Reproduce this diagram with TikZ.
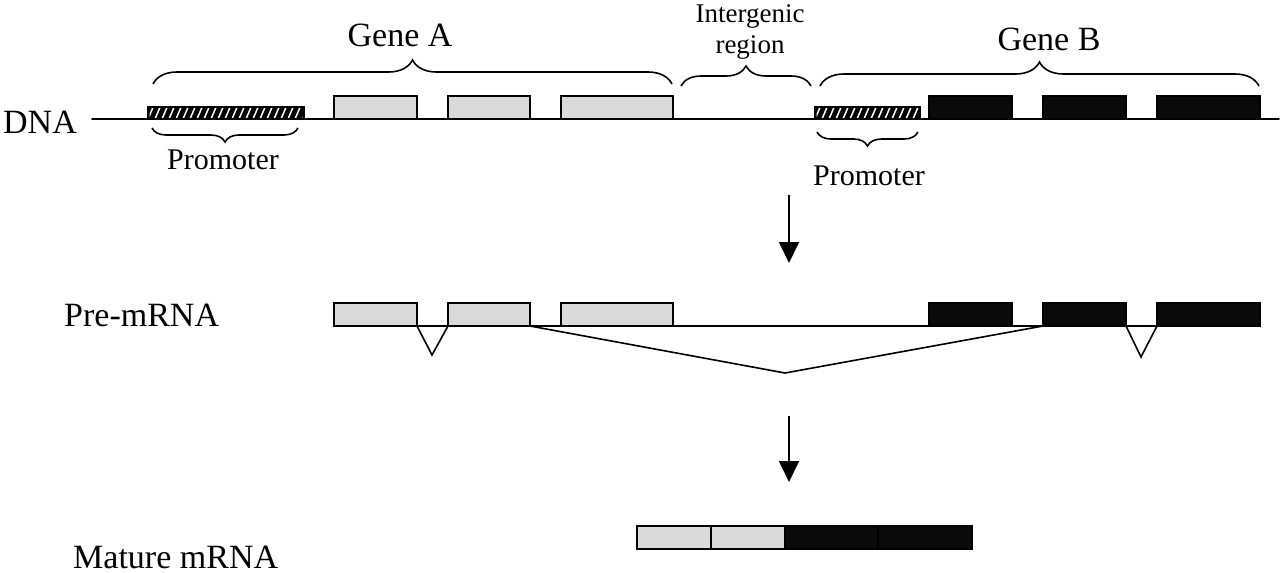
\documentclass[tikz,border=0pt]{standalone}
\usepackage{fontspec}
\setmainfont{Liberation Serif}
\usepackage{tikz}
\usetikzlibrary{
  arrows.meta, positioning, calc, decorations.pathreplacing
}
\definecolor{colExonA}{HTML}{DADADA}
\definecolor{colExonB}{HTML}{0A0A0A}
\tikzset{
  exon/.style={
    draw, line width=1.6pt, inner sep=0pt, outer sep=0pt,
    minimum height=23pt, anchor=south west
  },
  exonA/.style ={exon, fill=colExonA},
  exonB/.style ={exon, fill=colExonB},
  prom/.style  ={exon, fill=black, minimum height=12pt},
  strand/.style={line width=1.8pt, line cap=round},
  splice/.style={line width=1.6pt, line join=miter},
  curly/.style={
    decorate, line width=1.6pt,
    decoration={brace, amplitude=#1}
  },
  curly/.default=24pt,
  lbl/.style   ={font=\fontsize{34}{40}\selectfont},
  smlbl/.style ={font=\fontsize{30}{34}\selectfont},
  downarr/.style={
    -{Triangle[length=21pt,width=20pt]},
    line width=1.8pt
  }
}
% white slashes inside a promoter box
\newcommand{\hatchprom}[2]{%
  \begin{scope}
    \clip ($(#1.south west)+(1.6,-1.6)$) rectangle ($(#1.north east)+(-1.6,1.6)$);
    \foreach \hx in {0,7,...,#2}
      \draw[white, line width=1.5pt] ($(#1.south west)+(\hx,0)$) -- ++(6,-14);
  \end{scope}
}

\begin{document}
\begin{tikzpicture}[x=1pt, y=-1pt]
  \fill[white] (0,0) rectangle (1280,573);
  \useasboundingbox (0,0) rectangle (1280,573);

  %% ── DNA row ───────────────────────────────────────────────────────
  \node[lbl, anchor=base west, inner sep=0pt] (dna) at (3,133) {DNA};
  \coordinate (dnastart) at (92,119);
  \coordinate (dnaend)   at (1279,119);
  \draw[strand] (dnastart) -- (dnaend);

  \node[prom,  minimum width=156pt] (pA) at (148,119) {};
  \node[exonA, minimum width=83pt]  (a1) at (334,119) {};
  \node[exonA, minimum width=82pt]  (a2) at (448,119) {};
  \node[exonA, minimum width=112pt] (a3) at (561,119) {};

  \node[prom,  minimum width=105pt] (pB) at (815,119) {};
  \node[exonB, minimum width=83pt]  (b1) at (929,119) {};
  \node[exonB, minimum width=83pt]  (b2) at (1043,119) {};
  \node[exonB, minimum width=103pt] (b3) at (1157,119) {};

  \hatchprom{pA}{160}
  \hatchprom{pB}{110}

  %% ── Braces and their labels ───────────────────────────────────────
  \draw[curly=24pt] (153,84) -- (672,84);
  \draw[curly=20pt] (681,86) -- (811,86);
  \draw[curly=24pt] (820,86) -- (1259,86);
  \draw[curly=14pt] (298,128) -- (152,128);
  \draw[curly=14pt] (918,132) -- (817,132);

  \node[lbl, anchor=base] (geneA) at (400,46) {Gene A};
  \node[lbl, anchor=base] (geneB) at (1049,50) {Gene B};
  \node[font=\fontsize{27}{31}\selectfont, align=center, inner sep=0pt]
    (inter) at (750,31.5) {Intergenic\\region};
  \node[smlbl, anchor=base] (promA) at (223,169) {Promoter};
  \node[smlbl, anchor=base] (promB) at (869,185) {Promoter};

  %% ── Transcription arrow ───────────────────────────────────────────
  \coordinate (tx1) at (789,195);
  \coordinate (tx2) at (789,263);
  \draw[downarr] (tx1) -- (tx2);

  %% ── Pre-mRNA row ──────────────────────────────────────────────────
  \node[lbl, anchor=base west, inner sep=0pt] (pre) at (64,326) {Pre-mRNA};

  \node[exonA, minimum width=83pt]  (ra1) at (334,326) {};
  \node[exonA, minimum width=82pt]  (ra2) at (448,326) {};
  \node[exonA, minimum width=112pt] (ra3) at (561,326) {};
  \node[exonB, minimum width=83pt]  (rb1) at (929,326) {};
  \node[exonB, minimum width=83pt]  (rb2) at (1043,326) {};
  \node[exonB, minimum width=103pt] (rb3) at (1157,326) {};

  \draw[strand] (ra1.south west) -- (rb3.south east);

  % splice junctions
  \draw[splice] (ra1.south east) -- (432,355) -- (ra2.south west);
  \draw[splice] (ra2.south east) -- (785,373) -- (rb2.south west);
  \draw[splice] (rb2.south east) -- (1141,357) -- (rb3.south west);

  %% ── Splicing arrow ────────────────────────────────────────────────
  \coordinate (sp1) at (789,416);
  \coordinate (sp2) at (789,482);
  \draw[downarr] (sp1) -- (sp2);

  %% ── Mature mRNA row ───────────────────────────────────────────────
  \node[lbl, anchor=base west, inner sep=0pt] (mature) at (73,568) {Mature mRNA};

  \node[exonA, minimum width=74pt] (m1) at (637,549) {};
  \node[exonA, minimum width=74pt] (m2) at (m1.south east) {};
  \node[exonB, minimum width=93pt] (m3) at (m2.south east) {};
  \node[exonB, minimum width=94pt] (m4) at (m3.south east) {};
\end{tikzpicture}
\end{document}
